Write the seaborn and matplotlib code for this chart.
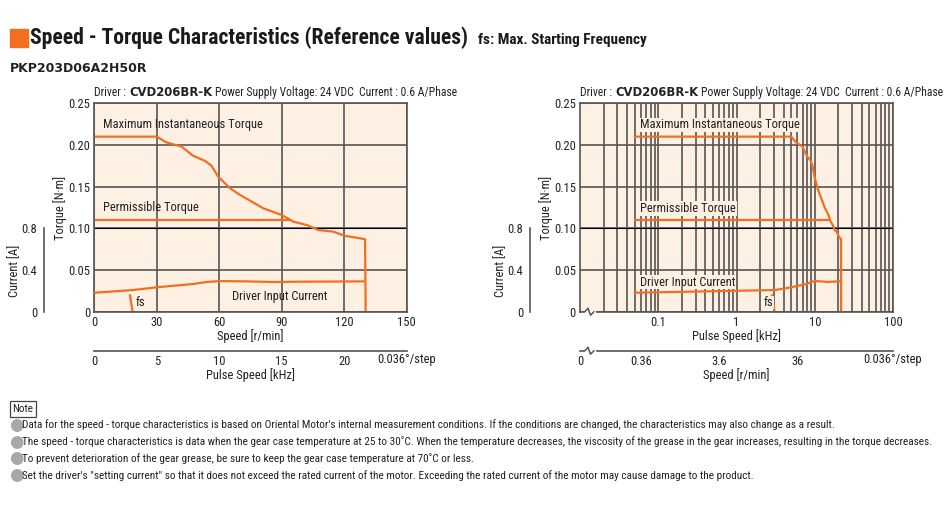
import numpy as np
import pandas as pd
import seaborn as sns
import matplotlib.pyplot as plt
from matplotlib.lines import Line2D
from matplotlib.ticker import LogLocator, NullLocator, NullFormatter

# values
# speed in r/min, torque in N·m, current in A  (0.036°/step -> 1 kHz = 6 r/min)
max_speed = [0, 30, 34.7, 41.9, 47.5, 53.1, 56.3, 59.5, 65.2, 70, 81.2, 90, 95.6, 102, 107.6, 114.8, 120.4, 130, 130.3]
max_torque = [0.21, 0.21, 0.203, 0.198, 0.187, 0.181, 0.175, 0.162, 0.148, 0.14, 0.124, 0.116, 0.108, 0.104, 0.098, 0.096, 0.091, 0.087, 0]
perm_speed = [0, 94]
perm_torque = [0.11, 0.11]
cur_speed = [0, 18.7, 29.9, 47.5, 53.9, 60.3, 73.1, 85.9, 98.7, 130]
cur_amp = [0.182, 0.208, 0.234, 0.266, 0.285, 0.294, 0.291, 0.285, 0.288, 0.291]
fs_speed = [17.1, 18.4]
fs_torque = [0.02, 0]
log_start_khz = 0.05
rpm_per_khz = 6.0

torque_ticks = [0, 0.05, 0.10, 0.15, 0.20, 0.25]
torque_labels = ["0", "0.05", "0.10", "0.15", "0.20", "0.25"]
current_ticks = [0, 0.4, 0.8]
current_labels = ["0", "0.4", "0.8"]
speed_ticks = [0, 30, 60, 90, 120, 150]
pulse_ticks = [0, 5, 10, 15, 20]
log_ticks = [0.1, 1, 10, 100]
log_labels = ["0.1", "1", "10", "100"]
rpm_log_ticks = [0.06, 0.36, 3.6, 36]
rpm_log_labels = ["0", "0.36", "3.6", "36"]

notes = [
    "Data for the speed - torque characteristics is based on Oriental Motor's internal measurement conditions. If the conditions are changed, the characteristics may also change as a result.",
    "The speed - torque characteristics is data when the gear case temperature at 25 to 30˚C. When the temperature decreases, the viscosity of the grease in the gear increases, resulting in the torque decreases.",
    "To prevent deterioration of the gear grease, be sure to keep the gear case temperature at 70˚C or less.",
    "Set the driver's \"setting current\" so that it does not exceed the rated current of the motor. Exceeding the rated current of the motor may cause damage to the product.",
]

ORANGE = "#F26F21"
BG = "#FEF0E3"
GRID = "#555555"
TXT = "#222222"

sns.set_style("white")
NARROW = ["Roboto Condensed", "DejaVu Sans"]
plt.rcParams["font.family"] = NARROW
plt.rcParams["text.color"] = TXT

W, H = 950, 508
fig = plt.figure(figsize=(W / 100, H / 100), dpi=100)


def rect(l, t, r, b):
    return [l / W, 1 - b / H, (r - l) / W, (b - t) / H]


def ft(x, y, s, **kw):
    return fig.text(x / W, 1 - y / H, s, **kw)


def run_text(x, y, parts, size):
    rend = fig.canvas.get_renderer()
    for s, weight, fam in parts:
        t = ft(x, y, s, fontsize=size, fontweight=weight, family=fam, va="center", color=TXT)
        x += t.get_window_extent(renderer=rend).width + 3


def px_line(xs, ys, **kw):
    fig.add_artist(Line2D([v / W for v in xs], [1 - v / H for v in ys], transform=fig.transFigure, **kw))


def style_main(ax):
    ax.set_facecolor(BG)
    ax.set_ylim(0, 0.25)
    ax.set_yticks(torque_ticks)
    ax.set_yticklabels(torque_labels)
    ax.tick_params(length=0, pad=3, labelsize=9, labelcolor=TXT)
    for s in ax.spines.values():
        s.set_color(GRID)
        s.set_linewidth(1.2)
    ax.set_axisbelow(True)
    ax.grid(True, axis="y", color=GRID, lw=1.2)
    ax.axhline(0.10, color="black", lw=0.8, zorder=1)


def current_axis(left):
    cax = fig.add_axes(rect(left, 103.3, left + 50, 311.7))
    cax.patch.set_visible(False)
    cax.set_ylim(0, 2.0)
    for s in ["top", "right", "bottom"]:
        cax.spines[s].set_visible(False)
    cax.spines["left"].set_bounds(0, 0.8)
    cax.spines["left"].set_color(GRID)
    cax.spines["left"].set_linewidth(1.2)
    cax.set_xticks([])
    cax.set_yticks(current_ticks)
    cax.set_yticklabels(current_labels)
    cax.tick_params(axis="y", direction="in", length=5, width=1.2, color=GRID, pad=5, labelsize=9, labelcolor=TXT)


def sub_axis(left, right):
    sub = fig.add_axes(rect(left, 330, right, 350.7))
    sub.patch.set_visible(False)
    for s in ["top", "left", "right"]:
        sub.spines[s].set_visible(False)
    sub.spines["bottom"].set_color(GRID)
    sub.spines["bottom"].set_linewidth(1.2)
    sub.set_yticks([])
    sub.tick_params(axis="x", direction="in", length=4, width=1.2, color=GRID, pad=3, labelsize=9, labelcolor=TXT)
    return sub


def draw_lines(ax, tw, xcol):
    for d in (max_df, perm_df, fs_df):
        sns.lineplot(data=d, x=xcol, y="torque", ax=ax, color=ORANGE, lw=1.6, sort=False, estimator=None)
    sns.lineplot(data=cur_df, x=xcol, y="current", ax=tw, color=ORANGE, lw=1.6, sort=False, estimator=None)
    ax.set_xlabel("")
    ax.set_ylabel("")
    tw.axis("off")


max_df = pd.DataFrame({"speed": max_speed, "torque": max_torque})
perm_df = pd.DataFrame({"speed": perm_speed, "torque": perm_torque})
cur_df = pd.DataFrame({"speed": cur_speed + [max_speed[-2]], "current": cur_amp + [cur_amp[-1]]})
fs_df = pd.DataFrame({"speed": fs_speed, "torque": fs_torque})
for d in (max_df, perm_df, cur_df, fs_df):
    d["khz"] = (d["speed"] / rpm_per_khz).clip(lower=log_start_khz)

# ---------------- left chart (linear) ----------------
ax1 = fig.add_axes(rect(94.3, 103.3, 406.7, 311.7))
style_main(ax1)
ax1.set_xlim(0, 150)
ax1.set_xticks(speed_ticks)
ax1.grid(True, axis="x", color=GRID, lw=1.2)
tw1 = ax1.twinx()
tw1.set_ylim(0, 2.0)
draw_lines(ax1, tw1, "speed")
ax1.text(4, 0.224, "Maximum Instantaneous Torque", fontsize=9, va="center")
ax1.text(4, 0.125, "Permissible Torque", fontsize=9, va="center")
ax1.text(66, 0.0188, "Driver Input Current", fontsize=9, va="center")
ax1.text(fs_speed[1] + 1.2, 0.011, "fs", fontsize=9, va="center")

current_axis(44.3)
sub1 = sub_axis(94.3, 406.7)
sub1.set_xlim(0, 150 / rpm_per_khz)
sub1.set_xticks(pulse_ticks)

# ---------------- right chart (log) ----------------
ax2 = fig.add_axes(rect(580, 103.3, 893, 311.7))
style_main(ax2)
ax2.set_xscale("log")
ax2.set_xlim(0.01, 100)
ax2.set_xticks(log_ticks)
ax2.set_xticklabels(log_labels)
ax2.xaxis.set_minor_locator(LogLocator(base=10, subs=np.arange(2, 10)))
ax2.xaxis.set_minor_formatter(NullFormatter())
ax2.tick_params(which="minor", length=0)
ax2.grid(True, axis="x", which="both", color=GRID, lw=1.2)
tw2 = ax2.twinx()
tw2.set_ylim(0, 2.0)
draw_lines(ax2, tw2, "khz")
lab_box = dict(fc=BG, ec="none", pad=0.5)
ax2.text(0.059, 0.224, "Maximum Instantaneous Torque", fontsize=9, va="center", bbox=lab_box)
ax2.text(0.059, 0.124, "Permissible Torque", fontsize=9, va="center", bbox=lab_box)
ax2.text(0.059, 0.0356, "Driver Input Current", fontsize=9, va="center", bbox=lab_box)
ax2.text(2.95, 0.011, "fs", fontsize=9, va="center", ha="right", bbox=dict(fc=BG, ec="none", pad=0.3))

current_axis(530)
sub2 = sub_axis(580, 893)
sub2.set_xscale("log")
sub2.set_xlim(0.06, 600)
sub2.set_xticks(rpm_log_ticks)
sub2.set_xticklabels(rpm_log_labels)
sub2.xaxis.set_minor_locator(NullLocator())

# axis break marks on the log chart
for yb in (311.7, 350.7):
    px_line([585.5, 594], [yb, yb], color="white", lw=2.5, zorder=20)
    px_line([585, 588, 590.5, 594], [yb, yb - 3.5, yb + 3.5, yb], color=GRID, lw=1.1, zorder=21)

# axis labels
ft(250, 336, "Speed [r/min]", fontsize=9, ha="center", va="center")
ft(250, 375, "Pulse Speed [kHz]", fontsize=9, ha="center", va="center")
ft(407, 359, "0.036°/step", fontsize=9, ha="center", va="center")
ft(736.5, 336, "Pulse Speed [kHz]", fontsize=9, ha="center", va="center")
ft(736.5, 375, "Speed [r/min]", fontsize=9, ha="center", va="center")
ft(893, 359, "0.036°/step", fontsize=9, ha="center", va="center")
for xl, xc in ((60, 15), (546, 501)):
    ft(xl, 208, "Torque [N·m]", fontsize=9, rotation=90, ha="center", va="center")
    ft(xc, 271, "Current [A]", fontsize=9, rotation=90, ha="center", va="center")

# driver headers
for x0 in (94.3, 580):
    run_text(x0, 92.5, [("Driver :", "normal", NARROW),
                        ("CVD206BR-K", "bold", ["DejaVu Sans"]),
                        ("Power Supply Voltage: 24 VDC  Current : 0.6 A/Phase", "normal", NARROW)], 8.4)

# title block
fig.patches.append(plt.Rectangle((10 / W, 1 - 47 / H), 18 / W, 18 / H, transform=fig.transFigure,
                                 color=ORANGE, figure=fig))
ft(30, 38, "Speed - Torque Characteristics (Reference values)", fontsize=15.6, fontweight="bold",
   va="center", color="#1a1a1a")
ft(478, 40, "fs: Max. Starting Frequency", fontsize=11, fontweight="bold", va="center", color="#1a1a1a")
ft(10, 68, "PKP203D06A2H50R", fontsize=9, fontweight="bold", va="center", family=["DejaVu Sans"])

# notes
ft(12.5, 409, "Note", fontsize=8, va="center",
   bbox=dict(boxstyle="square,pad=0.25", fc="white", ec="#444444", lw=0.9))
for i, n in enumerate(notes):
    y = 425 + i * 16.7
    ft(9, y, "●", fontsize=12, va="center", color="#A8A8A8", family=["DejaVu Sans"])
    ft(22, y, n, fontsize=8.1, va="center")

fig.savefig("out.png", dpi=100)
